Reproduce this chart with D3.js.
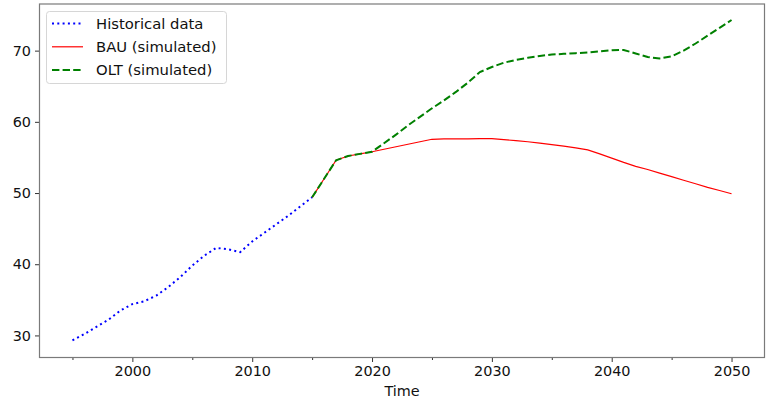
<!DOCTYPE html>
<html>
<head>
<meta charset="utf-8">
<script src="https://cdn.jsdelivr.net/npm/d3@7/dist/d3.min.js"></script>
<style>
  html, body { margin: 0; padding: 0; background: #fff; }
  svg { display: block; font-family: "DejaVu Sans", sans-serif; }
</style>
</head>
<body>
<svg id="chart" width="767" height="401"></svg>
<script>
// Historical series, one value per year 1995–2015
const histYears = d3.range(1995, 2016);
const histValues = [29.3, 30.2, 31.2, 32.2, 33.5, 34.4, 34.8, 35.6, 36.8, 38.2,
                    39.8, 41.2, 42.3, 42.1, 41.7, 43.2, 44.4, 45.6, 46.8, 48.1, 49.4];

// Simulated scenarios, one value per year 2015–2050
const simYears = d3.range(2015, 2051);
const bauValues = [49.4, 52.0, 54.6, 55.2, 55.5, 55.8, 56.15, 56.5, 56.85, 57.2,
                   57.55, 57.6, 57.6, 57.6, 57.65, 57.65, 57.5, 57.35, 57.2, 57.0,
                   56.8, 56.6, 56.35, 56.05, 55.5, 54.9, 54.3, 53.75, 53.3, 52.8,
                   52.3, 51.8, 51.3, 50.8, 50.35, 49.9];
const oltValues = [49.4, 52.0, 54.6, 55.2, 55.5, 55.8, 57.0, 58.2, 59.5, 60.7,
                   61.9, 63.0, 64.2, 65.5, 67.0, 67.7, 68.3, 68.7, 69.0, 69.25,
                   69.45, 69.55, 69.65, 69.75, 69.9, 70.05, 70.1, 69.6, 69.1, 68.9,
                   69.2, 70.0, 71.0, 72.1, 73.2, 74.3];

const xTicks = [2000, 2010, 2020, 2030, 2040, 2050];
const xMinorTicks = [1995, 2005, 2015, 2025, 2035, 2045];
const yTicks = [30, 40, 50, 60, 70];

const seriesNames = ["Historical data", "BAU (simulated)", "OLT (simulated)"];

const svg = d3.select("#chart");
const L = 39.5, R = 764.5, T = 4, B = 357.5;

const x = d3.scaleLinear().domain([1992.25, 2052.75]).range([L, R]);
const y = d3.scaleLinear().domain([26.9, 76.55]).range([B, T]);

const line = d3.line().x(d => x(d[0])).y(d => y(d[1]));

const hist = histYears.map((yr, i) => [yr, histValues[i]]);
const bau = simYears.map((yr, i) => [yr, bauValues[i]]);
const olt = simYears.map((yr, i) => [yr, oltValues[i]]);

// Axes
const xAxis = svg.append("g")
  .attr("transform", `translate(0,${B})`)
  .call(d3.axisBottom(x).tickValues(xTicks).tickFormat(d3.format("d")).tickSize(4.5).tickPadding(4));
const xMinor = svg.append("g")
  .attr("transform", `translate(0,${B})`)
  .call(d3.axisBottom(x).tickValues(xMinorTicks).tickFormat("").tickSize(2.5));
const yAxis = svg.append("g")
  .attr("transform", `translate(${L},0)`)
  .call(d3.axisLeft(y).tickValues(yTicks).tickSize(4.5).tickPadding(4));

[xAxis, xMinor, yAxis].forEach(g => {
  g.select(".domain").remove();
  g.selectAll("line").attr("stroke", "#333").attr("stroke-width", 1);
  g.selectAll("text").attr("fill", "#111").style("font-size", "14.4px")
    .style("font-family", "DejaVu Sans, sans-serif");
});

// Frame
svg.append("rect")
  .attr("x", L).attr("y", T).attr("width", R - L).attr("height", B - T)
  .attr("fill", "none").attr("stroke", "#7a7a7a").attr("stroke-width", 1.2);

// Axis title
svg.append("text")
  .attr("x", (L + R) / 2).attr("y", 396)
  .attr("text-anchor", "middle")
  .attr("fill", "#111")
  .style("font-size", "14.4px")
  .text("Time");

// Series
const styles = [
  { color: "#0000ff", width: 2, dash: "2,3.3" },
  { color: "#ff0000", width: 1.2, dash: null },
  { color: "#008000", width: 2, dash: "7.4,3.2" }
];

svg.append("path").datum(hist)
  .attr("d", line).attr("fill", "none")
  .attr("stroke", styles[0].color).attr("stroke-width", styles[0].width)
  .attr("stroke-dasharray", styles[0].dash);
svg.append("path").datum(bau)
  .attr("d", line).attr("fill", "none")
  .attr("stroke", styles[1].color).attr("stroke-width", styles[1].width);
svg.append("path").datum(olt)
  .attr("d", line).attr("fill", "none")
  .attr("stroke", styles[2].color).attr("stroke-width", styles[2].width)
  .attr("stroke-dasharray", styles[2].dash);

// Legend
const lg = svg.append("g");
lg.append("rect")
  .attr("x", 46.5).attr("y", 11.5).attr("width", 180).attr("height", 72)
  .attr("rx", 3).attr("ry", 3)
  .attr("fill", "#fff").attr("fill-opacity", 0.8)
  .attr("stroke", "#d6d6d6").attr("stroke-width", 1);

seriesNames.forEach((name, i) => {
  const cy = 23.5 + i * 23.3;
  lg.append("line")
    .attr("x1", 52).attr("x2", 83).attr("y1", cy).attr("y2", cy)
    .attr("stroke", styles[i].color).attr("stroke-width", styles[i].width)
    .attr("stroke-dasharray", styles[i].dash);
  lg.append("text")
    .attr("x", 96).attr("y", cy).attr("dy", "0.36em")
    .attr("fill", "#111")
    .style("font-size", "14.8px")
    .text(name);
});
</script>
</body>
</html>
